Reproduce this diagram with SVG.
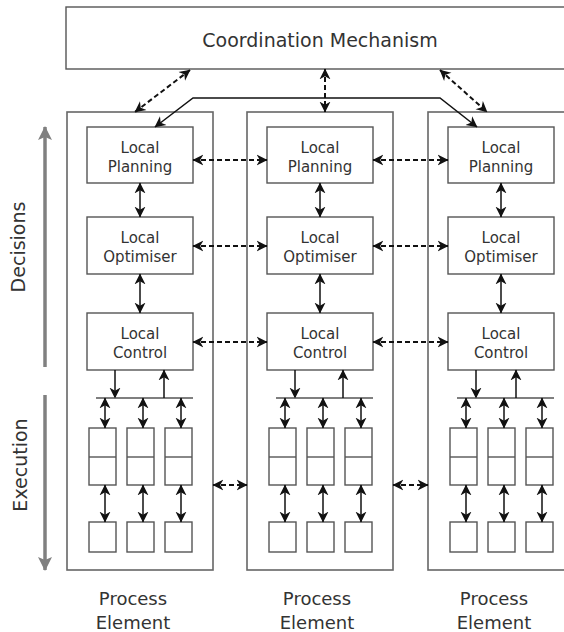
<svg xmlns="http://www.w3.org/2000/svg" width="564" height="632" viewBox="0 0 564 632">
  <style>
    .box { fill: #fff; stroke: #555; stroke-width: 1.4; }
    .pe { fill: none; stroke: #666; stroke-width: 1.6; }
    .lbl { font-family: "DejaVu Sans", Verdana, sans-serif; font-size: 15px; fill: #333; text-anchor: middle; }
    .big { font-family: "DejaVu Sans", Verdana, sans-serif; font-size: 18px; fill: #333; text-anchor: middle; }
    .title { font-family: "DejaVu Sans", Verdana, sans-serif; font-size: 19px; fill: #333; text-anchor: middle; }
    .arr { stroke: #111; stroke-width: 1.5; fill: none; marker-start: url(#ah); marker-end: url(#ah); }
    .one { stroke: #111; stroke-width: 1.5; fill: none; marker-end: url(#ah); }
    .dash { stroke: #111; stroke-width: 2; stroke-dasharray: 5 3; fill: none; marker-start: url(#ah); marker-end: url(#ah); }
    .bus { stroke: #555; stroke-width: 1.4; }
    .axis { stroke: #808080; stroke-width: 3.5; fill: none; marker-end: url(#gh); }
  </style>
  <defs>
    <marker id="ah" viewBox="0 0 10 10" refX="9.5" refY="5" markerWidth="11" markerHeight="12" markerUnits="userSpaceOnUse" orient="auto-start-reverse">
      <path d="M0,0 L10,5 L0,10 L3,5 z" fill="#111"/>
    </marker>
    <marker id="gh" viewBox="0 0 14 14" refX="13" refY="7" markerWidth="15" markerHeight="14" markerUnits="userSpaceOnUse" orient="auto">
      <path d="M0,0 L14,7 L0,14 L3,7 z" fill="#808080"/>
    </marker>
    <!-- one column of a process element: two-part buffer box over a single cell -->
    <g id="col">
      <rect class="box" x="0" y="428" width="27" height="57"/>
      <line class="bus" x1="0" y1="457" x2="27" y2="457"/>
      <rect class="box" x="0" y="522" width="27" height="30"/>
      <line class="arr" x1="16" y1="398" x2="16" y2="428"/>
      <line class="arr" x1="16" y1="485" x2="16" y2="522"/>
    </g>
    <!-- shared internals of a process element -->
    <g id="peBody">
      <rect class="pe" x="-20" y="112" width="146" height="458"/>
      <rect class="box" x="0" y="127" width="106" height="56"/>
      <rect class="box" x="0" y="217" width="106" height="57"/>
      <rect class="box" x="0" y="313" width="106" height="57"/>
      <text class="lbl" x="53" y="153">Local</text>
      <text class="lbl" x="53" y="172">Planning</text>
      <text class="lbl" x="53" y="243">Local</text>
      <text class="lbl" x="53" y="262">Optimiser</text>
      <text class="lbl" x="53" y="339">Local</text>
      <text class="lbl" x="53" y="358">Control</text>
      <line class="arr" x1="53" y1="183" x2="53" y2="217"/>
      <line class="arr" x1="53" y1="274" x2="53" y2="313"/>
      <line class="one" x1="28" y1="370" x2="28" y2="398"/>
      <line class="bus" x1="9" y1="398" x2="106" y2="398"/>
      <use href="#col" x="2"/>
      <use href="#col" x="40"/>
      <use href="#col" x="78"/>
    </g>
  </defs>

  <g id="coordination">
    <rect class="box" x="66" y="7" width="510" height="62"/>
    <text class="title" x="320" y="47">Coordination Mechanism</text>
  </g>

  <g id="pe1">
    <use href="#peBody" x="87"/>
    <line class="one" x1="164" y1="398" x2="164" y2="370"/>
    <text class="big" x="133" y="605">Process</text>
    <text class="big" x="133" y="629">Element</text>
  </g>
  <g id="pe2">
    <use href="#peBody" x="267"/>
    <line class="one" x1="343" y1="398" x2="343" y2="370"/>
    <text class="big" x="317" y="605">Process</text>
    <text class="big" x="317" y="629">Element</text>
  </g>
  <g id="pe3">
    <use href="#peBody" x="448"/>
    <line class="one" x1="516" y1="398" x2="516" y2="370"/>
    <text class="big" x="494" y="605">Process</text>
    <text class="big" x="494" y="629">Element</text>
  </g>

  <g id="axes">
    <line class="axis" x1="45" y1="367" x2="45" y2="127"/>
    <text class="title" transform="translate(25,247) rotate(-90)">Decisions</text>
    <line class="axis" x1="45" y1="395" x2="45" y2="570"/>
    <text class="title" transform="translate(27,465) rotate(-90)">Execution</text>
  </g>

  <g id="connectors">
    <!-- coordination links -->
    <line class="dash" x1="190" y1="70" x2="135" y2="112"/>
    <line class="dash" x1="325" y1="69" x2="325" y2="112"/>
    <line class="dash" x1="440" y1="70" x2="487" y2="112"/>
    <polyline class="arr" points="155,127 193,98 440,98 477,127"/>
    <!-- peer links between local layers -->
    <line class="dash" x1="193" y1="160" x2="267" y2="160"/>
    <line class="dash" x1="373" y1="160" x2="448" y2="160"/>
    <line class="dash" x1="193" y1="246" x2="267" y2="246"/>
    <line class="dash" x1="373" y1="246" x2="448" y2="246"/>
    <line class="dash" x1="193" y1="342" x2="267" y2="342"/>
    <line class="dash" x1="373" y1="342" x2="448" y2="342"/>
    <!-- links between process elements -->
    <line class="dash" x1="213" y1="485" x2="247" y2="485"/>
    <line class="dash" x1="393" y1="485" x2="428" y2="485"/>
  </g>
</svg>
